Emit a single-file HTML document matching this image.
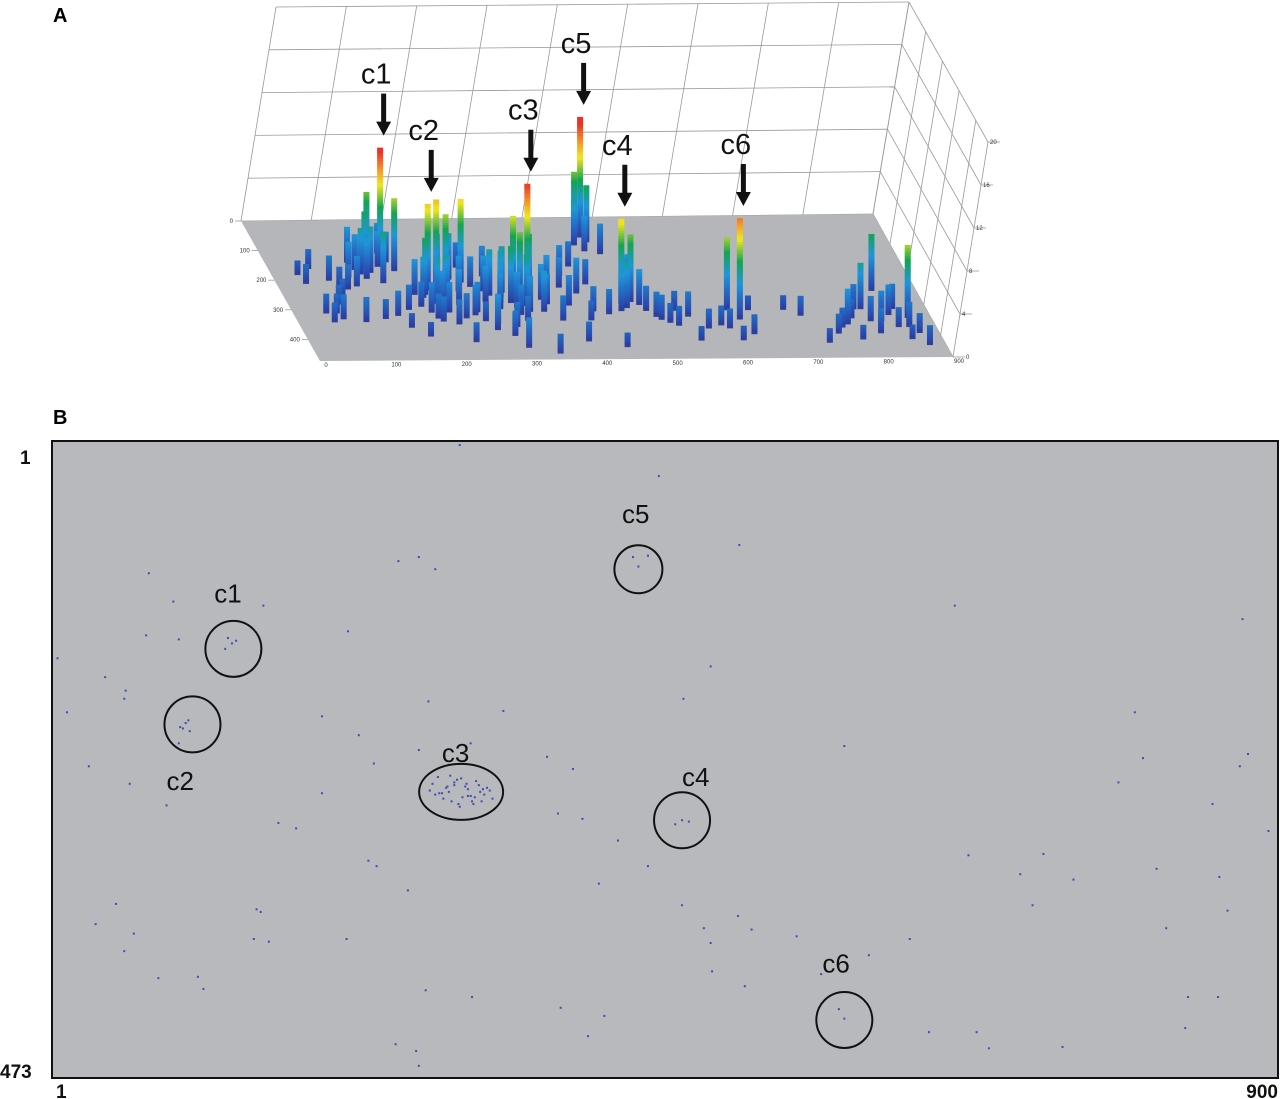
<!DOCTYPE html>
<html><head><meta charset="utf-8">
<style>
html,body{margin:0;padding:0;background:#fff;}
svg{display:block;font-family:"Liberation Sans",sans-serif;}
</style></head>
<body>
<svg id="fig" width="1280" height="1099" viewBox="0 0 1280 1099">
  <text x="53" y="22" font-size="20" font-weight="bold">A</text>
  <text x="53" y="424" font-size="20" font-weight="bold">B</text>
  <g id="panelA"></g>
  <g id="panelB"></g>
</svg>
<script>
// ---------- Panel A data ----------
const colTicks = [0,100,200,300,400,500,600,700,800,900];
const rowTicks = [0,100,200,300,400];
const zTicks = [0,4,8,12,16,20];
const barCols = [165,150,140,130,120,155,110,170,180, 212,225,240,205,230,250,265, 348,330,335,320,340,310,355,300,290,360,325, 470,460,475,455, 476,490,480,470,500, 631,620, 870,840,810,830,780,
 60,40,80,90,50,70,100,130,160,200,210,230,260,270,280,300,310,380,400,420,430,520,540,560,580,600,650,700,720,760,790,820,850,860,880,740,620,560,450,400,350,180,240,380,400,420,440,300,270,250,430,410,
 145,135,160,125,115,175,190,200,215,220,235,245,255,275,285,295,305,315,325,345,350,365,370,340,330,310,285,265,245,225,205,190,170,150,100,85,75,65,55,45,465,485,495,505,450,515,530,545,610,640,800,815,845,855,865,875,790,770];
const barRows = [139,120,150,170,130,200,180,100,160, 226,222,215,240,260,190,200, 250,240,260,270,280,250,230,290,230,300,310, 54,60,70,80, 274,270,290,300,280, 331,300, 330,240,300,340,350,
 150,170,190,210,300,320,330,320,350,300,330,340,310,330,360,380,420,330,280,330,300,330,350,320,360,350,300,300,320,380,400,380,360,400,420,410,400,400,420,400,440,380,400,230,220,240,210,180,150,120,150,180,
 165,185,145,155,210,130,240,250,270,280,245,275,230,215,265,245,270,235,285,265,245,260,275,300,330,350,340,300,320,300,320,280,290,310,220,250,270,300,330,200,100,110,230,300,310,320,340,300,360,380,300,340,320,300,360,380,330,360];
const barHeights = [10.7,6,5,4,3,4.5,3,2.5,6.5, 7.8,8.1,6.5,5,4,4,7.5, 10.3,7,6,5,4.5,4,5,3,3,3.5,2.5, 11,6,5,4, 7.6,6,4,3.5,3, 9.2,6.5, 6.5,5,4,2.5,3,
 1.5,1,2,1.5,1.5,2,2,1.5,1,2.5,2,2,2.5,1.5,3,2,2.5,2,2.5,1.5,2,2,1.5,2,1.5,1.5,1,1,1.5,1.5,1,2,1.5,1,1.5,1,1,1,1,1.5,1.5,1,1.5,3,2.5,3,2,2.5,2,2,2,2.5,
 4,3.5,3,3,2.5,2.5,3,3.5,4,3,3.5,3,3,2.5,3,4,3.5,4,3,4.5,3.5,3,2.5,3,2,2,2.5,2.5,2,2.5,2,2,2,2,2,1.5,1.5,1.5,1.5,1.5,3,2.5,3,2,2,2,1.5,1.5,1.5,1.5,2,2,2.5,2,2,1.5,1.5,1.5];
const peakNames = ["c1","c2","c3","c5","c4","c6"];
const peakCols = [165,212,348,470,476,631];
const peakRows = [139,226,250,54,274,331];
const peakHeights = [10.7,7.8,10.3,11,7.6,9.2];

const NS="http://www.w3.org/2000/svg";
function mk(tag, attrs, parent){const e=document.createElementNS(NS,tag);for(const k in attrs)e.setAttribute(k,attrs[k]);parent.appendChild(e);return e;}

const C00=[241,221], C10=[873,214], C11=[953,357], C01=[320,361];
const ZPX=10.6;
function proj(col,row,z){
  const u=col/900, v=row/473;
  const x=(1-u)*(1-v)*C00[0]+u*(1-v)*C10[0]+u*v*C11[0]+(1-u)*v*C01[0];
  const y=(1-u)*(1-v)*C00[1]+u*(1-v)*C10[1]+u*v*C11[1]+(1-u)*v*C01[1];
  return [x,y-z*ZPX];
}
function jet(t){
  t=Math.max(0,Math.min(1,t));
  const st=[[0,[42,63,168]],[0.3,[30,150,220]],[0.5,[20,165,80]],[0.7,[240,232,30]],[0.84,[245,150,40]],[1,[232,50,42]]];
  for(let i=1;i<st.length;i++){if(t<=st[i][0]){const a=st[i-1],b=st[i];const f=(t-a[0])/(b[0]-a[0]);
    return 'rgb('+a[1].map((c,j)=>Math.round(c+(b[1][j]-c)*f)).join(',')+')';}}
  return 'rgb(232,50,42)';
}
const A=document.getElementById('panelA');
const wall=mk('g',{},A);


const BT0=[276,7], BT1=[909,2];
colTicks.forEach((c,i)=>{const b=proj(c,0,0);const t=[BT0[0]+(BT1[0]-BT0[0])*c/900,BT0[1]+(BT1[1]-BT0[1])*c/900];
  const l=mk('line',{x1:b[0],y1:b[1],x2:t[0],y2:t[1],stroke:'#999','stroke-width':0.8},wall);
  
  });
zTicks.forEach(z=>{const f=z/20;const l0=[C00[0]+(BT0[0]-C00[0])*f,C00[1]+(BT0[1]-C00[1])*f];const l1=[C10[0]+(BT1[0]-C10[0])*f,C10[1]+(BT1[1]-C10[1])*f];
  const l=mk('line',{x1:l0[0],y1:l0[1],x2:l1[0],y2:l1[1],stroke:'#999','stroke-width':0.8},wall);
  
  
  const FT=[988,142];const r1=[C11[0]+(FT[0]-C11[0])*f,C11[1]+(FT[1]-C11[1])*f];
  const m=mk('line',{x1:l1[0],y1:l1[1],x2:r1[0],y2:r1[1],stroke:'#999','stroke-width':0.8},wall);
  
  
  const tk=mk('line',{x1:r1[0],y1:r1[1],x2:r1[0]+12,y2:r1[1],stroke:'#999','stroke-width':0.8},wall);
  
  
  const tx=mk('text',{x:r1[0]+(z===0?5:-6)+8,y:r1[1]+2,'font-size':6,fill:'#333'},wall);
  tx.textContent=z;
  
  
});
rowTicks.concat([473]).forEach(r=>{const f=r/473;const b=[C10[0]+(C11[0]-C10[0])*f,C10[1]+(C11[1]-C10[1])*f];const t=[BT1[0]+(988-BT1[0])*f,BT1[1]+(142-BT1[1])*f];
  const l=mk('line',{x1:b[0],y1:b[1],x2:t[0],y2:t[1],stroke:'#999','stroke-width':0.8},wall);
  
  });
const fl=mk('polygon',{points:[C00,C10,C11,C01].map(p=>p.join(',')).join(' '),fill:'#b5b6ba'},A);


rowTicks.forEach(r=>{const p=proj(0,r,0);const t=mk('text',{x:p[0]-8,y:p[1]+2,'font-size':6,'text-anchor':'end',fill:'#333'},A);t.textContent=r;
  
  
  const l=mk('line',{x1:p[0]-6,y1:p[1],x2:p[0],y2:p[1],stroke:'#999','stroke-width':0.8},A);
  
  });
colTicks.forEach(c=>{const p=proj(c,473,0);const t=mk('text',{x:p[0]+6,y:p[1]+6,'font-size':6,'text-anchor':'middle',fill:'#333'},A);t.textContent=c;
  
  });
const idx=barCols.map((_,i)=>i).sort((a,b)=>barRows[a]-barRows[b]);
const bars=mk('g',{},A);


idx.forEach(i=>{
  const h=barHeights[i];const b=proj(barCols[i],barRows[i],0);
  const g=mk('g',{},bars);
  
  
  const step=0.25;
  for(let z=0;z<h;z+=step){const z2=Math.min(h,z+step);
    mk('rect',{x:b[0]-3,y:b[1]-z2*ZPX,width:6,height:(z2-z)*ZPX+0.6,fill:jet(z2/10.5)},g);}
  mk('rect',{x:b[0]-3,y:b[1],width:6,height:4,fill:'#2c3f9e'},g);
});
peakNames.forEach((n,i)=>{const p=proj(peakCols[i],peakRows[i],peakHeights[i]);
  const g=mk('g',{},A);
  
  
  const tip=p[1]-12, top=tip-42;
  mk('rect',{x:p[0]+1,y:top,width:5,height:30,fill:'#111'},g);
  mk('polygon',{points:`${p[0]-4},${tip-14} ${p[0]+11},${tip-14} ${p[0]+3.5},${tip}`,fill:'#111'},g);
  const t=mk('text',{x:p[0]-4,y:top-10,'font-size':29,'text-anchor':'middle',fill:'#111'},g);t.textContent=n;
});

// ---------- Panel B data ----------
const dotCols = [300,446,505,72,90,156,133,128,136,130,70,94,218,255,270,282,5,40,55,54,12,97,101,94,28,58,85,199,226,277,332,308,364,383,270,237,199,167,180,233,239,151,154,262,402,438,464,484,416,372,390,33,48,61,54,79,108,112,149,160,217,253,268,270,275,309,374,394,406,463,479,484,504,514,485,509,547,565,578,582,600,630,644,679,688,728,742,673,750,801,783,852,811,857,872,893,834,856,832,863,795,874,663,878,582,720,711,818,427,438,431,463,458,468,99,95,102,
 280,285,290,294,298,302,306,310,314,318,322,284,288,292,296,300,304,308,312,316,320,287,293,299,305,311,317,282,291,301,309,315,324,278,296,306];
const dotRows = [4,27,78,99,120,123,151,155,149,147,145,148,142,90,87,96,162,176,186,192,202,214,208,225,242,255,271,205,219,194,201,225,235,244,230,240,262,284,288,312,316,348,350,334,329,316,192,168,297,277,281,359,344,366,379,399,398,407,370,372,370,448,453,464,408,413,421,442,427,345,362,373,353,363,394,405,368,396,422,429,382,370,439,439,451,307,450,308,326,236,254,270,318,324,242,290,413,413,436,349,202,133,123,233,227,345,322,362,87,86,94,282,285,283,210,213,216,
 255,262,258,268,252,265,259,270,256,263,260,250,266,261,254,272,257,264,253,268,258,262,249,270,255,265,259,263,257,251,268,261,266,260,256,264];
const circleNames=["c1","c5","c2","c3","c4","c6"];
const circleCols=[134,431,104,301,463,582];
const circleRows=[155,96,211,261,282,430];
const circleLabelCols=[130,429,95,297,473,576];
const circleLabelRows=[114,55,253,232,250,388];

const B=document.getElementById('panelB');
const PX0=52,PX1=1278,PY0=441,PY1=1078;
function bx(c){return PX0+(c-1)/899*(PX1-PX0);}
function by(r){return PY0+(r-1)/472*(PY1-PY0);}
const bg=mk('rect',{x:PX0,y:PY0,width:PX1-PX0,height:PY1-PY0,fill:'#b8b9bd',stroke:'#111','stroke-width':2},B);


dotCols.forEach((c,i)=>{const d=mk('rect',{x:bx(c)-1,y:by(dotRows[i])-1,width:2,height:2,fill:'#3b4fb0'},B);
  
  });
circleNames.forEach((n,i)=>{
  const g=mk('g',{},B);
  
  
  const rx=n==='c3'?42:(n==='c5'?24:28), ry=n==='c3'?28:(n==='c5'?24:28);
  mk('ellipse',{cx:bx(circleCols[i]),cy:by(circleRows[i]),rx:rx,ry:ry,fill:'none',stroke:'#111','stroke-width':2},g);
  const t=mk('text',{x:bx(circleLabelCols[i]),y:by(circleLabelRows[i])+9,'font-size':26,'text-anchor':'middle',fill:'#111'},g);t.textContent=n;
});
const labs=[['1',20,464,'y-axis-min-label','start'],['473',0,1078,'y-axis-max-label','start'],['1',56,1098,'x-axis-min-label','start'],['900',1278,1098,'x-axis-max-label','end']];
labs.forEach(l=>{const t=mk('text',{x:l[1],y:l[2],'font-size':19,'font-weight':'bold','text-anchor':l[4],fill:'#111'},B);t.textContent=l[0];
  
  });
</script>
</body></html>
